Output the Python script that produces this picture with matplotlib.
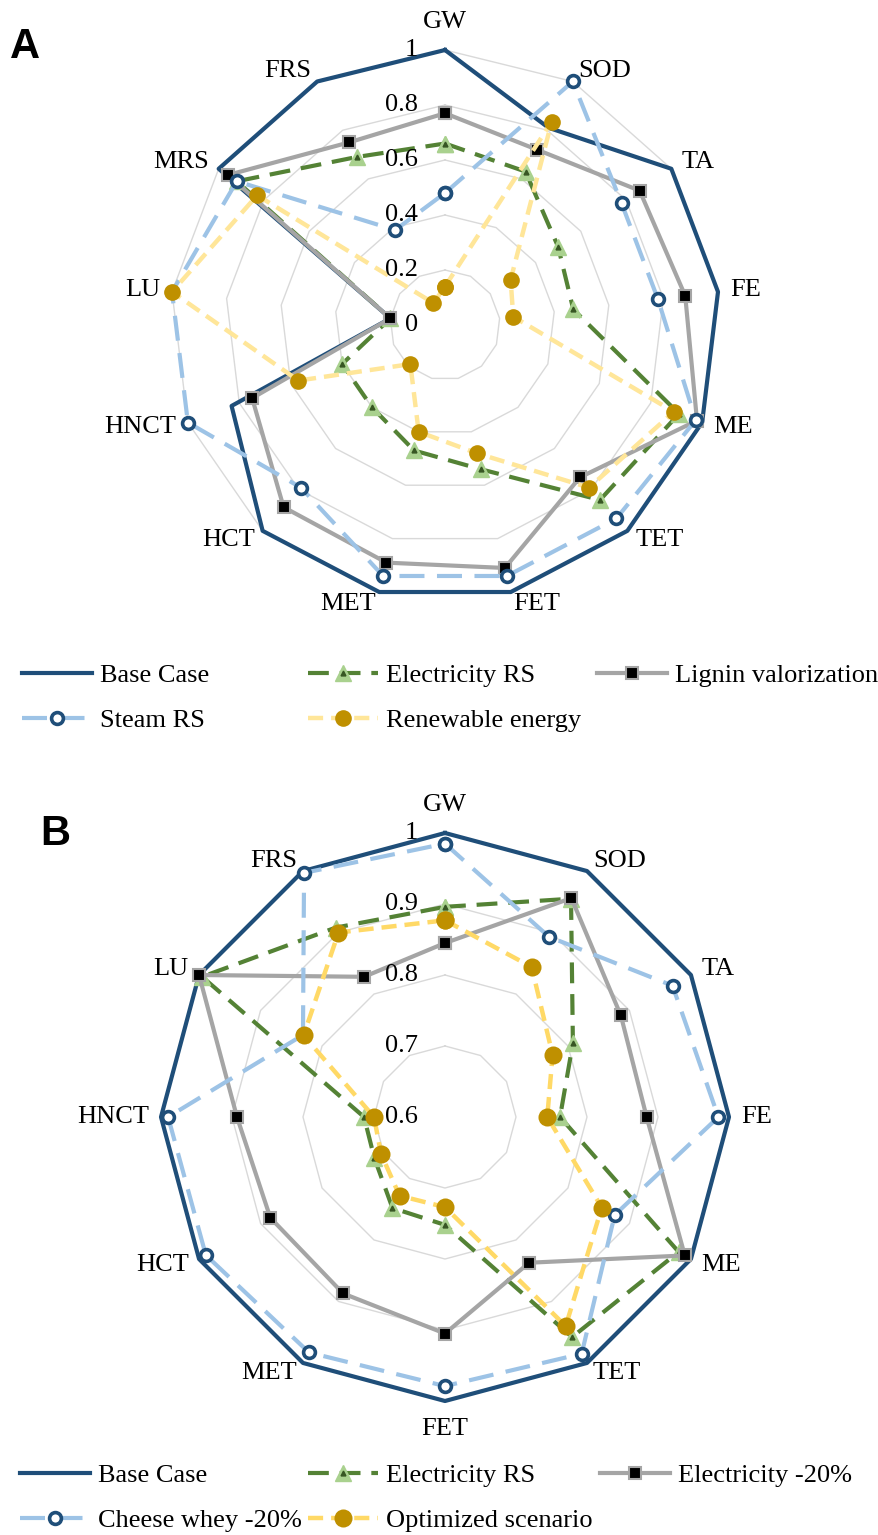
import numpy as np
import matplotlib
matplotlib.use('Agg')
import matplotlib.pyplot as plt
from matplotlib.lines import Line2D

# ---------------- data ----------------
cats_a = ['GW', 'SOD', 'TA', 'FE', 'ME', 'TET', 'FET', 'MET', 'HCT', 'HNCT', 'LU', 'MRS', 'FRS']
base_a = [1, 0.81, 1, 1, 1, 1, 1, 1, 1, 0.83, 0.2, 1, 1]
elec_rs_a = [0.66, 0.63, 0.50, 0.47, 0.91, 0.85, 0.54, 0.47, 0.40, 0.40, 0.2, 0.92, 0.69]
lignin_a = [0.77, 0.72, 0.86, 0.88, 0.98, 0.74, 0.91, 0.89, 0.885, 0.75, 0.2, 0.96, 0.75]
steam_a = [0.48, 1.0, 0.78, 0.78, 0.975, 0.94, 0.94, 0.94, 0.79, 1.0, 1.0, 0.92, 0.39]
renew_a = [0.14, 0.835, 0.29, 0.25, 0.89, 0.79, 0.48, 0.40, 0.19, 0.57, 1.0, 0.83, 0.09]
ticks_a = [0, 0.2, 0.4, 0.6, 0.8, 1]
names_a = ['Base Case', 'Electricity RS', 'Lignin valorization', 'Steam RS', 'Renewable energy']

cats_b = ['GW', 'SOD', 'TA', 'FE', 'ME', 'TET', 'FET', 'MET', 'HCT', 'HNCT', 'LU', 'FRS']
base_b = [1, 1, 1, 1, 1, 1, 1, 1, 1, 1, 1, 1]
elec_rs_b = [0.896, 0.955, 0.808, 0.762, 0.98, 0.958, 0.752, 0.748, 0.715, 0.714, 0.995, 0.908]
elec20_b = [0.845, 0.956, 0.886, 0.884, 0.99, 0.837, 0.905, 0.887, 0.884, 0.893, 1.0, 0.828]
cheese_b = [0.985, 0.893, 0.97, 0.985, 0.876, 0.985, 0.979, 0.983, 0.989, 0.99, 0.831, 0.997]
optim_b = [0.877, 0.844, 0.775, 0.744, 0.855, 0.94, 0.727, 0.728, 0.704, 0.70, 0.83, 0.90]
ticks_b = [0.6, 0.7, 0.8, 0.9, 1]
names_b = ['Base Case', 'Electricity RS', 'Electricity -20%', 'Cheese whey -20%', 'Optimized scenario']

# ---------------- styles ----------------
W, H = 879, 1535
FS = 19
SERIF = 'Liberation Serif'
NAVY = '#1F4E79'
GREEN = '#548235'
LGREEN = '#A9D18E'
DGREEN = '#375623'
GRAY = '#A5A5A5'
LBLUE = '#9DC3E6'
GOLD = '#BF9000'

def st_base():
    return dict(color=NAVY, lw=3.0, ls='-')

def st_elec():
    return dict(color=GREEN, lw=3.0, ls=(0, (5, 2.6)), marker='^', ms=11.5,
                mfc=LGREEN, mec=LGREEN, mew=1)

def st_gray():
    return dict(color=GRAY, lw=3.0, ls='-', marker='s', ms=9, mfc='black', mec=GRAY, mew=1.5)

def st_steam():
    return dict(color=LBLUE, lw=3.0, ls=(0, (6, 3)), marker='o', ms=8.5, mfc='white',
                mec=NAVY, mew=2.6)

def st_renew(col, ms):
    return dict(color=col, lw=3.2, ls=(0, (3.4, 1.8)), marker='o', ms=ms, mfc=GOLD, mec=GOLD, mew=0)

inner = dict(ls='none', marker='^', ms=3.5, mfc=DGREEN, mec=DGREEN)

fig = plt.figure(figsize=(W / 100, H / 100), dpi=100)
fig.patch.set_facecolor('white')


def radar(rect, cats, series, styles, rmin, ticks):
    ax = fig.add_axes(rect, projection='polar')
    n = len(cats)
    ang = np.linspace(0, 2 * np.pi, n, endpoint=False)
    angc = np.append(ang, ang[0])
    ax.set_theta_zero_location('N')
    ax.set_theta_direction(-1)
    ax.set_ylim(rmin, 1)
    ax.grid(False)
    ax.set_xticks([])
    ax.set_yticks([])
    ax.spines['polar'].set_visible(False)
    ax.patch.set_visible(False)
    for t in ticks[1:]:
        ax.plot(angc, [t] * (n + 1), color='#D9D9D9', lw=1.0, zorder=1, clip_on=False)
    for t in ticks:
        ax.annotate(f'{t:g}', xy=(0, t), xytext=(-27, 0), textcoords='offset pixels',
                    ha='right', va='center', fontsize=FS, family=SERIF, zorder=20)
    for i, c in enumerate(cats):
        s, co = np.sin(ang[i]), np.cos(ang[i])
        if abs(s) < 0.05:
            ha, d = 'center', 28
        else:
            ha, d = ('left' if s > 0 else 'right'), 12
        ax.annotate(c, xy=(ang[i], 1), xytext=(d * s, d * co), textcoords='offset pixels',
                    ha=ha, va='center', fontsize=FS, family=SERIF)
    for k, (vals, sty) in enumerate(zip(series, styles)):
        v = np.append(vals, vals[0])
        ax.plot(angc, v, zorder=3 + k, clip_on=False, **sty)
        if sty.get('marker') == '^':
            ax.plot(ang, vals, zorder=3 + k, clip_on=False, **inner)
    return ax


styles_a = [st_base(), st_elec(), st_gray(), st_steam(), st_renew('#FFE699', 12)]
styles_b = [st_base(), st_elec(), st_gray(), st_steam(), st_renew('#FFD966', 13)]

cxA, cyA, RA = 445, 325, 275
radar([(cxA - RA) / W, (H - cyA - RA) / H, 2 * RA / W, 2 * RA / H], cats_a,
      [base_a, elec_rs_a, lignin_a, steam_a, renew_a], styles_a, 0, ticks_a)

cxB, cyB, RB = 445, 1117, 284
radar([(cxB - RB) / W, (H - cyB - RB) / H, 2 * RB / W, 2 * RB / H], cats_b,
      [base_b, elec_rs_b, elec20_b, cheese_b, optim_b], styles_b, 0.6, ticks_b)


def make_handle(sty):
    ln = Line2D([], [], **sty)
    if sty.get('marker') == '^':
        return (ln, Line2D([], [], **inner))
    return ln


def legends(styles, names, y_top, xs):
    h = [make_handle(s) for s in styles]
    groups = [([h[0], h[3]], [names[0], names[3]]),
              ([h[1], h[4]], [names[1], names[4]]),
              ([h[2]], [names[2]])]
    for (hh, nn), x in zip(groups, xs):
        fig.legend(handles=hh, labels=nn, loc='upper left',
                   bbox_to_anchor=(x / W, 1 - y_top / H), frameon=False,
                   prop={'family': SERIF, 'size': FS}, handlelength=2.65,
                   handletextpad=0.3, labelspacing=0.8, borderpad=0,
                   borderaxespad=0, numpoints=1)


legends(styles_a, names_a, 664, [22, 308, 597])
legends(styles_b, names_b, 1464, [20, 308, 600])

fig.text(25 / W, 1 - 47 / H, 'A', fontsize=30, fontweight='bold', family='Liberation Sans',
         ha='center', va='center')
fig.text(55 / W, 1 - 834 / H, 'B', fontsize=30, fontweight='bold', family='Liberation Sans',
         ha='center', va='center')

fig.savefig('out.png', dpi=100, facecolor='white')
